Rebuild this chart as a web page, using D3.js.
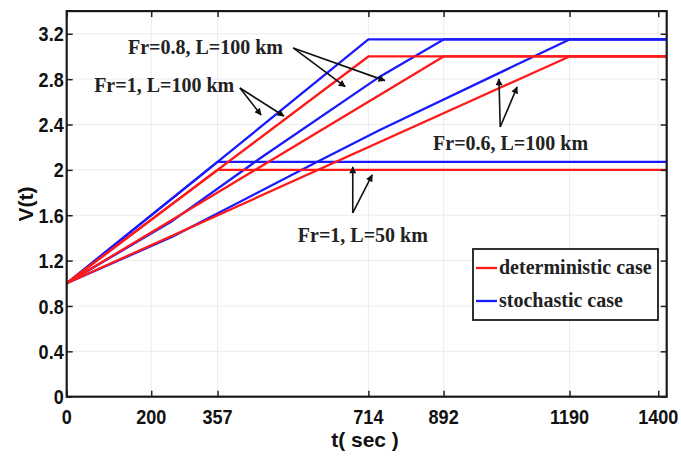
<!DOCTYPE html>
<html>
<head>
<meta charset="utf-8">
<script src="https://cdn.jsdelivr.net/npm/d3@7"></script>
<style>
  html, body { margin: 0; padding: 0; background: #fff; }
  svg { display: block; }
  .tick-label { font-family: "Liberation Sans", Arial, sans-serif; font-weight: bold; font-size: 21px; fill: #111; }
  .axis-title { font-family: "Liberation Sans", Arial, sans-serif; font-weight: bold; font-size: 21px; fill: #111; }
  .note { font-family: "Liberation Serif", "Times New Roman", serif; font-weight: bold; font-size: 20px; fill: #222; }
</style>
</head>
<body>
<svg id="chart" width="681" height="457"></svg>
<script>
// Axis ticks
const xTicks = [0, 200, 357, 714, 892, 1190, 1400];
const yTicks = [0, 0.4, 0.8, 1.2, 1.6, 2, 2.4, 2.8, 3.2];
const yTickLabels = ["0", "0.4", "0.8", "1.2", "1.6", "2", "2.4", "2.8", "3.2"];

// Deterministic velocity profiles V(t): breakpoint times and values
const detFr1L50T  = [0, 357, 1420];
const detFr1L50V  = [1, 2.0, 2.0];
const detFr1L100T = [0, 714, 1420];
const detFr1L100V = [1, 3.0, 3.0];
const detFr08T    = [0, 892, 1420];
const detFr08V    = [1, 3.0, 3.0];
const detFr06T    = [0, 1190, 1420];
const detFr06V    = [1, 3.0, 3.0];

// Stochastic velocity profiles V(t)
const stoFr1L50T  = [0, 357, 1420];
const stoFr1L50V  = [1, 2.07, 2.07];
const stoFr1L100T = [0, 357, 714, 1420];
const stoFr1L100V = [1, 2.07, 3.15, 3.15];
const stoFr08T    = [0, 250, 457, 741, 892, 1420];
const stoFr08V    = [1, 1.55, 2.1, 2.822, 3.15, 3.15];
const stoFr06T    = [0, 250, 592, 741, 1190, 1420];
const stoFr06V    = [1, 1.41, 2.07, 2.351, 3.15, 3.15];

const legendLabels = ["deterministic case", "stochastic case"];
const legendColors = ["#ff1a1a", "#1a1aff"];

// Annotation labels: text anchor and arrow start / arrow tips, all in (t, V)
const noteTexts = ["Fr=0.8, L=100 km", "Fr=1, L=100 km", "Fr=0.6, L=100 km", "Fr=1, L=50 km"];
const noteAnchors = [[145, 3.022], [65, 2.687], [867, 2.175], [547, 1.364]];
const noteArrowFrom = [[536, 3.075], [410, 2.722], [1026, 2.378], [677, 1.62]];
const noteArrowTo = [
  [[659, 2.734], [753, 2.787]],
  [[460, 2.484], [514, 2.475]],
  [[1023, 2.802], [1066, 2.731]],
  [[677, 2.026], [723, 1.955]]
];

const svg = d3.select("#chart");
const padL = 66.7, padR = 666.7, padT = 11.1, padB = 396.7;

const x = d3.scaleLinear().domain([0, 1420]).range([padL, padR]);
const y = d3.scaleLinear().domain([0, 3.4]).range([padB, padT]);

// faint grid
const grid = svg.append("g").attr("stroke", "#ececec").attr("stroke-width", 1);
grid.selectAll("line.h").data(yTicks.slice(1)).join("line").attr("class", "h")
  .attr("x1", padL).attr("x2", padR).attr("y1", d => y(d)).attr("y2", d => y(d));
grid.selectAll("line.v").data(xTicks.slice(1)).join("line").attr("class", "v")
  .attr("y1", padT).attr("y2", padB).attr("x1", d => x(d)).attr("x2", d => x(d));

// data lines
const line = d3.line().x(d => x(d[0])).y(d => y(d[1]));
const zip = (ts, vs) => ts.map((t, i) => [t, vs[i]]);

const stochastic = [
  zip(stoFr1L50T, stoFr1L50V), zip(stoFr1L100T, stoFr1L100V),
  zip(stoFr08T, stoFr08V), zip(stoFr06T, stoFr06V)
];
const deterministic = [
  zip(detFr1L50T, detFr1L50V), zip(detFr1L100T, detFr1L100V),
  zip(detFr08T, detFr08V), zip(detFr06T, detFr06V)
];

const plot = svg.append("g");
plot.selectAll("path.sto").data(stochastic).join("path")
  .attr("class", "sto").attr("d", line).attr("fill", "none")
  .attr("stroke", legendColors[1]).attr("stroke-width", 2.3).attr("stroke-linejoin", "round");
plot.selectAll("path.det").data(deterministic).join("path")
  .attr("class", "det").attr("d", line).attr("fill", "none")
  .attr("stroke", legendColors[0]).attr("stroke-width", 2.3).attr("stroke-linejoin", "round");

// axes (inward ticks on all four sides)
const tickLen = 6;
const axB = svg.append("g").attr("transform", `translate(0,${padB})`)
  .call(d3.axisBottom(x).tickValues(xTicks).tickSizeInner(-tickLen).tickSizeOuter(0).tickFormat(""));
const axT = svg.append("g").attr("transform", `translate(0,${padT})`)
  .call(d3.axisTop(x).tickValues(xTicks).tickSizeInner(-tickLen).tickSizeOuter(0).tickFormat(""));
const axL = svg.append("g").attr("transform", `translate(${padL},0)`)
  .call(d3.axisLeft(y).tickValues(yTicks).tickSizeInner(-tickLen).tickSizeOuter(0).tickFormat(""));
const axR = svg.append("g").attr("transform", `translate(${padR},0)`)
  .call(d3.axisRight(y).tickValues(yTicks).tickSizeInner(-tickLen).tickSizeOuter(0).tickFormat(""));
[axB, axT, axL, axR].forEach(a => {
  a.select(".domain").remove();
  a.selectAll(".tick line").attr("stroke", "#222").attr("stroke-width", 1.5);
});

// frame
svg.append("rect").attr("x", padL).attr("y", padT)
  .attr("width", padR - padL).attr("height", padB - padT)
  .attr("fill", "none").attr("stroke", "#1a1a1a").attr("stroke-width", 2.2);

// tick labels, slightly condensed
const squeeze = 0.86;
svg.append("g").selectAll("text").data(xTicks).join("text")
  .attr("class", "tick-label").attr("text-anchor", "middle")
  .attr("transform", d => `translate(${x(d)},${padB + 27}) scale(${squeeze},1)`)
  .text(d => d);
svg.append("g").selectAll("text").data(yTicks).join("text")
  .attr("class", "tick-label").attr("text-anchor", "end").attr("dy", "0.36em")
  .attr("transform", d => `translate(${padL - 3},${y(d)}) scale(${squeeze},1)`)
  .text((d, i) => yTickLabels[i]);

// axis titles
svg.append("text").attr("class", "axis-title").attr("text-anchor", "middle")
  .attr("x", 365).attr("y", 447).text("t( sec )");
svg.append("text").attr("class", "axis-title").attr("text-anchor", "middle")
  .attr("transform", "translate(33,204) rotate(-90)").text("V(t)");

// arrow head marker
svg.append("defs").append("marker")
  .attr("id", "head").attr("viewBox", "0 0 10 10").attr("refX", 9).attr("refY", 5)
  .attr("markerWidth", 9).attr("markerHeight", 7).attr("markerUnits", "userSpaceOnUse")
  .attr("orient", "auto")
  .append("path").attr("d", "M0,0 L10,5 L0,10 Z").attr("fill", "#111");

// annotations
const notes = svg.append("g");
noteTexts.forEach((txt, i) => {
  notes.append("text").attr("class", "note")
    .attr("x", x(noteAnchors[i][0])).attr("y", y(noteAnchors[i][1])).text(txt);
  noteArrowTo[i].forEach(tip => {
    notes.append("line")
      .attr("x1", x(noteArrowFrom[i][0])).attr("y1", y(noteArrowFrom[i][1]))
      .attr("x2", x(tip[0])).attr("y2", y(tip[1]))
      .attr("stroke", "#111").attr("stroke-width", 1.6)
      .attr("marker-end", "url(#head)");
  });
});

// legend
const lg = svg.append("g");
lg.append("rect").attr("x", 473).attr("y", 249).attr("width", 185).attr("height", 71)
  .attr("fill", "#fff").attr("stroke", "#1a1a1a").attr("stroke-width", 1.8);
legendLabels.forEach((lab, i) => {
  const ly = 268 + i * 33;
  lg.append("line").attr("x1", 476).attr("x2", 497).attr("y1", ly).attr("y2", ly)
    .attr("stroke", legendColors[i]).attr("stroke-width", 2.3);
  lg.append("text").attr("class", "note").attr("x", 499).attr("y", ly + 6).text(lab);
});
</script>
</body>
</html>
